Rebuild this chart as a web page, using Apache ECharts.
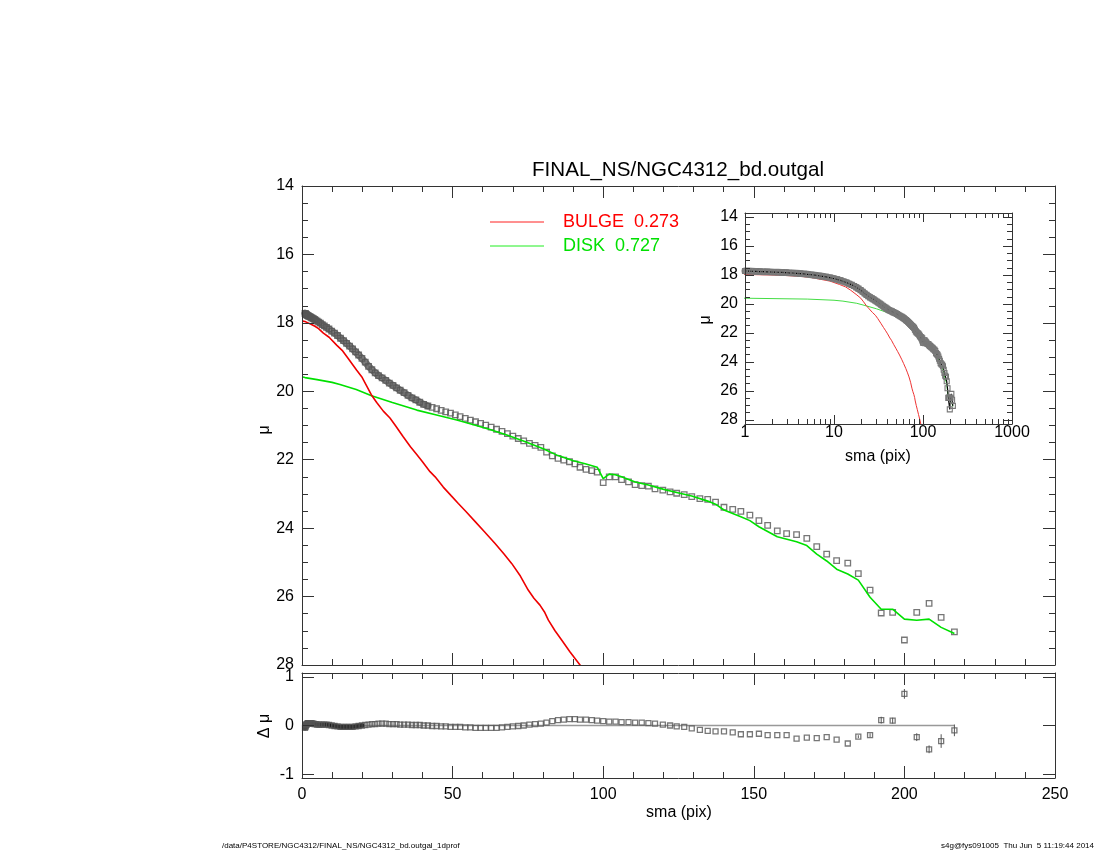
<!DOCTYPE html>
<html><head><meta charset="utf-8">
<script src="https://cdn.jsdelivr.net/npm/echarts@6/dist/echarts.min.js"></script>
<style>html,body{margin:0;padding:0;background:#fff}#c{width:1100px;height:850px}</style>
</head><body><div id="c"></div>
<script>
// ---- data ----
const sma = [1.00,1.10,1.20,1.33,1.46,1.60,1.77,1.95,2.14,2.36,2.60,2.85,3.14,3.45,3.80,4.18,4.60,5.05,5.56,6.12,6.73,7.40,8.14,8.95,9.85,
10.8,11.8,12.8,13.8,14.8,15.8,16.8,17.8,18.8,19.9,21.0,22.1,23.2,24.3,25.4,26.6,27.8,29.0,30.2,31.4,32.6,33.9,35.2,36.5,37.8,39.1,40.4,
41.8,43.2,44.7,46.2,47.7,49.3,50.9,52.5,54.2,55.9,57.6,59.3,61.0,62.8,64.6,66.4,68.2,70.0,71.8,73.6,75.5,77.4,79.3,81.2,83.1,85.0,86.9,88.8,90.6,
92.3,94.3,96.2,98.0,100.0,102.0,104.1,106.1,108.4,110.6,112.8,115.0,117.2,119.8,122.2,124.4,126.9,129.4,132.1,134.7,137.3,140.1,143.0,145.7,148.7,151.7,154.6,157.8,160.9,164.2,167.6,170.9,174.2,177.5,181.2,184.7,188.6,192.3,196.1,200.0,204.1,208.2,212.2,216.6];
const mu = [17.72,17.73,17.74,17.75,17.76,17.77,17.78,17.79,17.80,17.81,17.82,17.83,17.85,17.86,17.88,17.90,17.92,17.95,17.98,18.01,18.05,18.09,18.13,18.18,18.24,
18.30,18.37,18.45,18.52,18.60,18.68,18.76,18.85,18.94,19.04,19.15,19.27,19.37,19.46,19.54,19.61,19.68,19.76,19.83,19.90,19.97,20.04,20.12,20.19,20.25,20.32,20.38,
20.43,20.47,20.51,20.56,20.60,20.64,20.69,20.74,20.79,20.84,20.89,20.94,20.99,21.05,21.11,21.17,21.24,21.31,21.38,21.45,21.52,21.58,21.64,21.78,21.89,21.96,22.01,22.06,22.12,
22.22,22.28,22.32,22.36,22.67,22.50,22.50,22.58,22.65,22.73,22.76,22.77,22.85,22.89,22.94,22.98,23.02,23.08,23.14,23.16,23.24,23.39,23.45,23.51,23.62,23.78,23.92,24.08,24.16,24.19,24.30,24.54,24.76,24.95,25.02,25.33,25.81,26.48,26.46,27.27,26.46,26.20,26.61,27.03];
const dmu = [-0.05,-0.03,-0.01,0.01,0.02,0.03,0.04,0.05,0.05,0.05,0.05,0.05,0.05,0.04,0.04,0.03,0.03,0.02,0.02,0.02,0.02,0.02,0.02,0.01,0.00,
-0.01,-0.02,-0.03,-0.03,-0.03,-0.03,-0.03,-0.02,-0.01,0.00,0.01,0.02,0.03,0.03,0.04,0.04,0.04,0.03,0.03,0.03,0.02,0.02,0.02,0.01,0.01,0.01,0.00,
0.00,-0.01,-0.01,-0.02,-0.02,-0.03,-0.03,-0.03,-0.04,-0.04,-0.05,-0.05,-0.05,-0.05,-0.05,-0.04,-0.03,-0.02,-0.01,0.00,0.02,0.03,0.04,0.06,0.09,0.11,0.12,0.13,0.13,
0.12,0.12,0.11,0.10,0.09,0.08,0.08,0.07,0.07,0.06,0.06,0.05,0.04,0.02,0.00,-0.02,-0.03,-0.06,-0.09,-0.11,-0.12,-0.12,-0.14,-0.18,-0.18,-0.17,-0.20,-0.20,-0.20,-0.27,-0.25,-0.26,-0.24,-0.29,-0.37,-0.23,-0.20,0.11,0.10,0.65,-0.24,-0.49,-0.32,-0.10];
const errSma = [184.7,188.6,192.3,196.1,200.0,204.1,208.2,212.2,216.6];
const errVal = [0.03,0.04,0.07,0.06,0.10,0.08,0.08,0.14,0.12];
const bulgeSma = [0.3,1.0,2.0,3.0,4.3,5.5,7.1,9.0,11.5,13.5,15.4,18.1,20.0,21.5,23.0,24.8,27.0,29.2,31.0,33.6,36.0,38.1,40.0,42.5,44.2,46.9,49.5,51.9,54.5,57.5,60.5,64.1,67.0,69.6,72.5,75.1,77.0,79.0,80.5,81.8,84.0,86.2,89.0,92.3,95.0];
const bulgeMu = [17.95,17.96,18.00,18.04,18.10,18.17,18.30,18.42,18.65,18.82,19.05,19.38,19.60,19.85,20.10,20.33,20.58,20.78,21.00,21.33,21.62,21.85,22.06,22.35,22.50,22.80,23.05,23.28,23.52,23.81,24.10,24.45,24.75,25.03,25.40,25.81,26.05,26.25,26.45,26.69,27.00,27.27,27.62,28.00,28.35];
const diskSma = [0.3,1.0,5.0,10.0,12.6,18.0,23.1,30.0,38.1,45.0,51.4,57.0,62.4,68.0,73.5,80.1,85.0,90.1,94.0,98.0,100.0,102.0,104.0,106.1,110.6,115.0,119.8,124.4,129.4,134.7,137.3,140.1,145.7,148.7,151.7,157.8,164.2,167.6,170.9,174.2,177.5,181.2,184.7,188.6,192.3,196.1,200.0,204.1,208.2,212.2,216.6];
const diskMu = [19.58,19.60,19.66,19.74,19.80,19.95,20.13,20.33,20.55,20.70,20.84,20.98,21.12,21.28,21.45,21.68,21.88,22.03,22.12,22.22,22.55,22.42,22.44,22.50,22.65,22.74,22.86,22.96,23.06,23.21,23.30,23.47,23.67,23.78,23.96,24.25,24.40,24.51,24.76,24.96,25.20,25.34,25.52,26.02,26.37,26.37,26.66,26.69,26.66,26.90,27.08];
const muTicks = [14,16,18,20,22,24,26,28];
const muMinorTicks = [14.5,15,15.5,16.5,17,17.5,18.5,19,19.5,20.5,21,21.5,22.5,23,23.5,24.5,25,25.5,26.5,27,27.5];
const dmuTicks = [-1,0,1];
const logTicks = [1,10,100,1000];
const logMinorTicks = [2,3,4,5,6,7,8,9,20,30,40,50,60,70,80,90,200,300,400,500,600,700,800,900];
const titleText = 'FINAL_NS/NGC4312_bd.outgal';
const legendBulge = 'BULGE  0.273';
const legendDisk = 'DISK  0.727';
const footLeft = '/data/P4STORE/NGC4312/FINAL_NS/NGC4312_bd.outgal_1dprof';
const footRight = 's4g@fys091005  Thu Jun  5 11:19:44 2014';
// where the dense inner profile merges into a continuous band
const bandMainMax = 42;
const bandResMax = 20;
const bandInsetMax = 100;

// ---- chart ----
const FONT = '"Liberation Sans", Arial, Helvetica, sans-serif';
const AX = '#333';
function axis(o) {
  const base = {
    type: 'value', scale: false,
    axisLine: {show: true, onZero: false, lineStyle: {color: AX, width: 1}},
    axisTick: {show: true, inside: true, length: 12, lineStyle: {color: AX, width: 1}},
    minorTick: {show: false},
    splitLine: {show: false}, minorSplitLine: {show: false},
    axisLabel: {show: false, color: '#000', fontFamily: FONT, fontSize: 16, margin: 8},
    z: 10
  };
  const r = Object.assign({}, base, o);
  ['axisLine','axisTick','minorTick','axisLabel'].forEach(k => { if (o[k]) r[k] = Object.assign({}, base[k], o[k]); });
  return r;
}
const pts = (xs, ys) => xs.map((x, i) => [x, ys[i]]);
const ptsUpTo = (xs, ys, lim) => pts(xs, ys).filter(p => p[0] <= lim);

const chart = echarts.init(document.getElementById('c'), null, {renderer: 'canvas'});
const option = {
  animation: false,
  backgroundColor: '#fff',
  grid: [
    {left: 302, top: 186, width: 753, height: 479, outerBoundsMode: 'none', containLabel: false},
    {left: 302, top: 673, width: 753, height: 105, outerBoundsMode: 'none', containLabel: false},
    {left: 745, top: 213, width: 267, height: 211, outerBoundsMode: 'none', containLabel: false, backgroundColor: '#fff', show: true, borderWidth: 0}
  ],
  xAxis: [
    axis({gridIndex: 0, position: 'bottom', min: 0, max: 250, interval: 50, minorTick: {show: true, splitNumber: 5, length: 6, lineStyle: {color: AX}}}),
    axis({gridIndex: 0, position: 'top', min: 0, max: 250, interval: 50, minorTick: {show: true, splitNumber: 5, length: 6, lineStyle: {color: AX}}}),
    axis({gridIndex: 1, position: 'bottom', min: 0, max: 250, interval: 50, axisLabel: {show: true, margin: 9}, minorTick: {show: true, splitNumber: 5, length: 6, lineStyle: {color: AX}}}),
    axis({gridIndex: 1, position: 'top', min: 0, max: 250, interval: 50, minorTick: {show: true, splitNumber: 5, length: 6, lineStyle: {color: AX}}}),
    axis({gridIndex: 2, type: 'log', logBase: 10, position: 'bottom', min: 1, max: 1000, axisTick: {length: 9, customValues: logTicks},
          axisLabel: {show: true, margin: 1, customValues: logTicks, formatter: v => String(Math.round(v))}}),
    axis({gridIndex: 2, type: 'log', logBase: 10, position: 'top', min: 1, max: 1000, axisTick: {length: 9, customValues: logTicks}}),
    axis({gridIndex: 2, type: 'log', logBase: 10, position: 'bottom', min: 1, max: 1000, axisLine: {show: false}, axisTick: {length: 5, customValues: logMinorTicks}}),
    axis({gridIndex: 2, type: 'log', logBase: 10, position: 'top', min: 1, max: 1000, axisLine: {show: false}, axisTick: {length: 5, customValues: logMinorTicks}})
  ],
  yAxis: [
    axis({gridIndex: 0, position: 'left', inverse: true, min: 14, max: 28, interval: 2, axisLabel: {show: true, margin: 8}, minorTick: {show: true, splitNumber: 4, length: 6, lineStyle: {color: AX}}}),
    axis({gridIndex: 0, position: 'right', inverse: true, min: 14, max: 28, interval: 2, minorTick: {show: true, splitNumber: 4, length: 6, lineStyle: {color: AX}}}),
    axis({gridIndex: 1, position: 'left', min: -1.08, max: 1.08, axisTick: {customValues: dmuTicks}, axisLabel: {show: true, margin: 8, customValues: dmuTicks}}),
    axis({gridIndex: 1, position: 'right', min: -1.08, max: 1.08, axisTick: {customValues: dmuTicks}}),
    axis({gridIndex: 2, position: 'left', inverse: true, min: 13.72, max: 28.28, axisTick: {length: 9, customValues: muTicks}, axisLabel: {show: true, margin: 7, customValues: muTicks}}),
    axis({gridIndex: 2, position: 'right', inverse: true, min: 13.72, max: 28.28, axisTick: {length: 9, customValues: muTicks}}),
    axis({gridIndex: 2, position: 'left', inverse: true, min: 13.72, max: 28.28, axisLine: {show: false}, axisTick: {length: 5, customValues: muMinorTicks}}),
    axis({gridIndex: 2, position: 'right', inverse: true, min: 13.72, max: 28.28, axisLine: {show: false}, axisTick: {length: 5, customValues: muMinorTicks}})
  ],
  series: [
    // main panel
    {type: 'line', xAxisIndex: 0, yAxisIndex: 0, data: ptsUpTo(sma, mu, bandMainMax), showSymbol: false, clip: true, z: 1,
     lineStyle: {color: '#7a7a7a', width: 7, cap: 'round', join: 'round'}},
    {type: 'scatter', xAxisIndex: 0, yAxisIndex: 0, data: pts(sma, mu), symbol: 'rect', symbolSize: 5.5, clip: true, z: 2,
     itemStyle: {color: 'rgba(255,255,255,0)', borderColor: '#555', borderWidth: 1.3}},
    {type: 'line', xAxisIndex: 0, yAxisIndex: 0, data: pts(diskSma, diskMu), showSymbol: false, clip: true, z: 3,
     lineStyle: {color: '#00e000', width: 1.6}},
    {type: 'line', xAxisIndex: 0, yAxisIndex: 0, data: pts(bulgeSma, bulgeMu), showSymbol: false, clip: true, z: 3,
     lineStyle: {color: '#ee0000', width: 1.6}},
    // residual panel
    {type: 'line', xAxisIndex: 2, yAxisIndex: 2, data: [[0, 0], [sma[sma.length - 1], 0]], showSymbol: false, clip: true, z: 2,
     lineStyle: {color: '#999', width: 1.5}},
    {type: 'line', xAxisIndex: 2, yAxisIndex: 2, data: ptsUpTo(sma, dmu, bandResMax), showSymbol: false, clip: true, z: 3,
     lineStyle: {color: '#111', width: 5, cap: 'round', join: 'round'}},
    {type: 'custom', xAxisIndex: 2, yAxisIndex: 2, z: 3,
     data: errSma.map((s, i) => [s, dmu[sma.indexOf(s)], errVal[i]]),
     renderItem: function (params, api) {
       const x = api.value(0), y = api.value(1), e = api.value(2);
       const p1 = api.coord([x, y + e]), p2 = api.coord([x, y - e]);
       return {type: 'line', shape: {x1: p1[0], y1: p1[1], x2: p2[0], y2: p2[1]}, style: {stroke: '#555', lineWidth: 1}};
     }},
    {type: 'scatter', xAxisIndex: 2, yAxisIndex: 2, data: pts(sma, dmu), symbol: 'rect', symbolSize: 5, clip: true, z: 4,
     itemStyle: {color: 'rgba(255,255,255,0)', borderColor: '#555', borderWidth: 1.3}},
    // inset
    {type: 'line', xAxisIndex: 4, yAxisIndex: 4, data: pts(diskSma, diskMu), showSymbol: false, clip: true, z: 2,
     lineStyle: {color: '#44dd44', width: 1}},
    {type: 'line', xAxisIndex: 4, yAxisIndex: 4, data: pts(bulgeSma, bulgeMu), showSymbol: false, clip: true, z: 2,
     lineStyle: {color: '#ee3333', width: 1}},
    {type: 'line', xAxisIndex: 4, yAxisIndex: 4, data: ptsUpTo(sma, mu, bandInsetMax), showSymbol: false, clip: true, z: 3,
     lineStyle: {color: '#808080', width: 7, cap: 'round', join: 'round'}},
    {type: 'line', xAxisIndex: 4, yAxisIndex: 4, data: pts(sma, mu), clip: true, z: 4,
     showSymbol: true, showAllSymbol: true, symbol: 'rect', symbolSize: 5,
     itemStyle: {color: 'rgba(255,255,255,0)', borderColor: '#777', borderWidth: 1.1},
     lineStyle: {color: '#000', width: 1.2}}
  ],
  graphic: [
    {type: 'text', x: 678, y: 170, style: {text: titleText, fill: '#000', font: '20.6px ' + FONT, align: 'center', verticalAlign: 'middle'}},
    {type: 'line', shape: {x1: 490, y1: 222, x2: 544, y2: 222}, style: {stroke: '#ff2020', lineWidth: 1}},
    {type: 'text', x: 563, y: 222, style: {text: legendBulge, fill: '#ff0000', font: '18px ' + FONT, align: 'left', verticalAlign: 'middle'}},
    {type: 'line', shape: {x1: 490, y1: 246, x2: 544, y2: 246}, style: {stroke: '#20ee20', lineWidth: 1}},
    {type: 'text', x: 563, y: 246, style: {text: legendDisk, fill: '#00e000', font: '18px ' + FONT, align: 'left', verticalAlign: 'middle'}},
    {type: 'text', x: 265, y: 430, rotation: Math.PI / 2, style: {text: 'μ', fill: '#000', font: '16px ' + FONT, align: 'center', verticalAlign: 'middle'}},
    {type: 'text', x: 265, y: 726, rotation: Math.PI / 2, style: {text: 'Δ μ', fill: '#000', font: '16px ' + FONT, align: 'center', verticalAlign: 'middle'}},
    {type: 'text', x: 679, y: 813, style: {text: 'sma (pix)', fill: '#000', font: '16px ' + FONT, align: 'center', verticalAlign: 'middle'}},
    {type: 'text', x: 706, y: 320, rotation: Math.PI / 2, style: {text: 'μ', fill: '#000', font: '16px ' + FONT, align: 'center', verticalAlign: 'middle'}},
    {type: 'text', x: 878, y: 457, style: {text: 'sma (pix)', fill: '#000', font: '16px ' + FONT, align: 'center', verticalAlign: 'middle'}},
    {type: 'text', x: 222, y: 846, style: {text: footLeft, fill: '#000', font: '8px ' + FONT, align: 'left', verticalAlign: 'middle'}},
    {type: 'text', x: 1094, y: 846, style: {text: footRight, fill: '#000', font: '8px ' + FONT, align: 'right', verticalAlign: 'middle'}}
  ]
};
chart.setOption(option);
</script>
</body></html>
